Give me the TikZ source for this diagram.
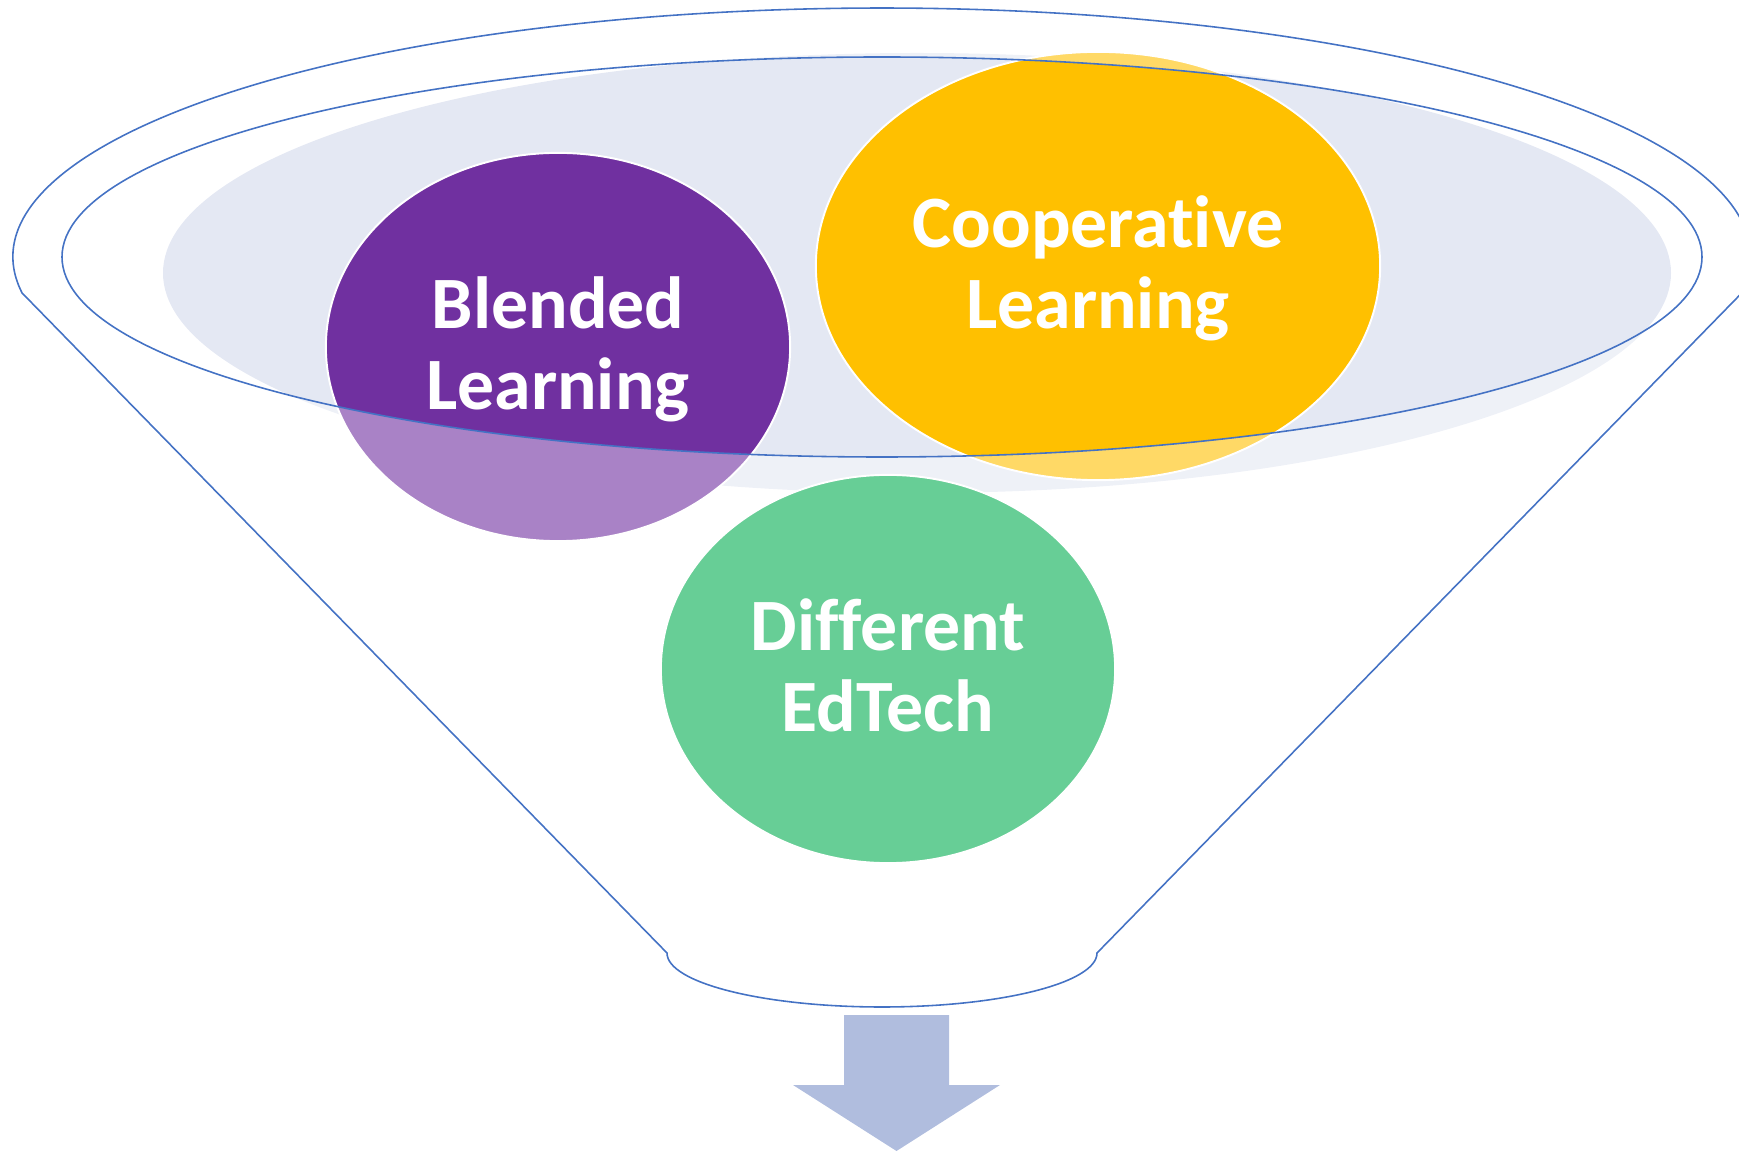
\documentclass[tikz,border=0pt]{standalone}
\usepackage{fontspec}
\setmainfont{Carlito}[Ligatures={NoCommon,NoRequired,NoContextual}]
\usetikzlibrary{shapes.geometric}
\definecolor{funnelblue}{HTML}{4472C4}
\definecolor{rimfill}{HTML}{E4E8F3}
\definecolor{blendpurple}{HTML}{7030A0}
\definecolor{coopgold}{HTML}{FFC000}
\definecolor{edgreen}{RGB}{103,206,150}
\definecolor{arrowfill}{HTML}{B0BDDE}
\tikzset{
  bubble/.style={ellipse, draw=white, line width=0.55pt, text=white, align=center,
    inner sep=0pt, text depth=2.2pt, font=\bfseries\fontsize{21}{23}\selectfont},
  rimline/.style={draw=funnelblue, line width=0.45pt},
}
\begin{document}
\begin{tikzpicture}[x=0.01cm,y=0.01cm]
    \useasboundingbox (0,0) rectangle (1739,1154);
    % backdrop inside the rim
    \fill[rimfill] (917,881) ellipse [x radius=754, y radius=220];
    \node[bubble, fill=blendpurple, minimum width=4.64cm, minimum height=3.88cm] (blended) at (558,807) {Blended\\Learning};
    \node[bubble, fill=coopgold, minimum width=5.64cm, minimum height=4.28cm] (coop) at (1098,888) {Cooperat\kern0pt ive\\Learning};
    % funnel body, faded outside the rim
    \fill[white, fill opacity=0.4, even odd rule]
        (22.1,861) arc[start angle=188.31, end angle=-8.31, x radius=869, y radius=249]
        -- (1097,201) arc[start angle=0, end angle=-180, x radius=215, y radius=54] -- cycle
        (882,897) ellipse [x radius=820, y radius=200];
    \draw[rimline] (22.1,861) arc[start angle=188.31, end angle=-8.31, x radius=869, y radius=249]
        -- (1097,201) arc[start angle=0, end angle=-180, x radius=215, y radius=54] -- cycle;
    \draw[rimline] (882,897) ellipse [x radius=820, y radius=200];
    \node[bubble, fill=edgreen, minimum width=4.54cm, minimum height=3.88cm] (edtech) at (888,485) {Different\\EdTech};
    % arrow out of the funnel
    \fill[arrowfill] (844,139) -- (949,139) -- (949,69) -- (1000,69) -- (896.5,3) -- (793,69) -- (844,69) -- cycle;
\end{tikzpicture}
\end{document}
